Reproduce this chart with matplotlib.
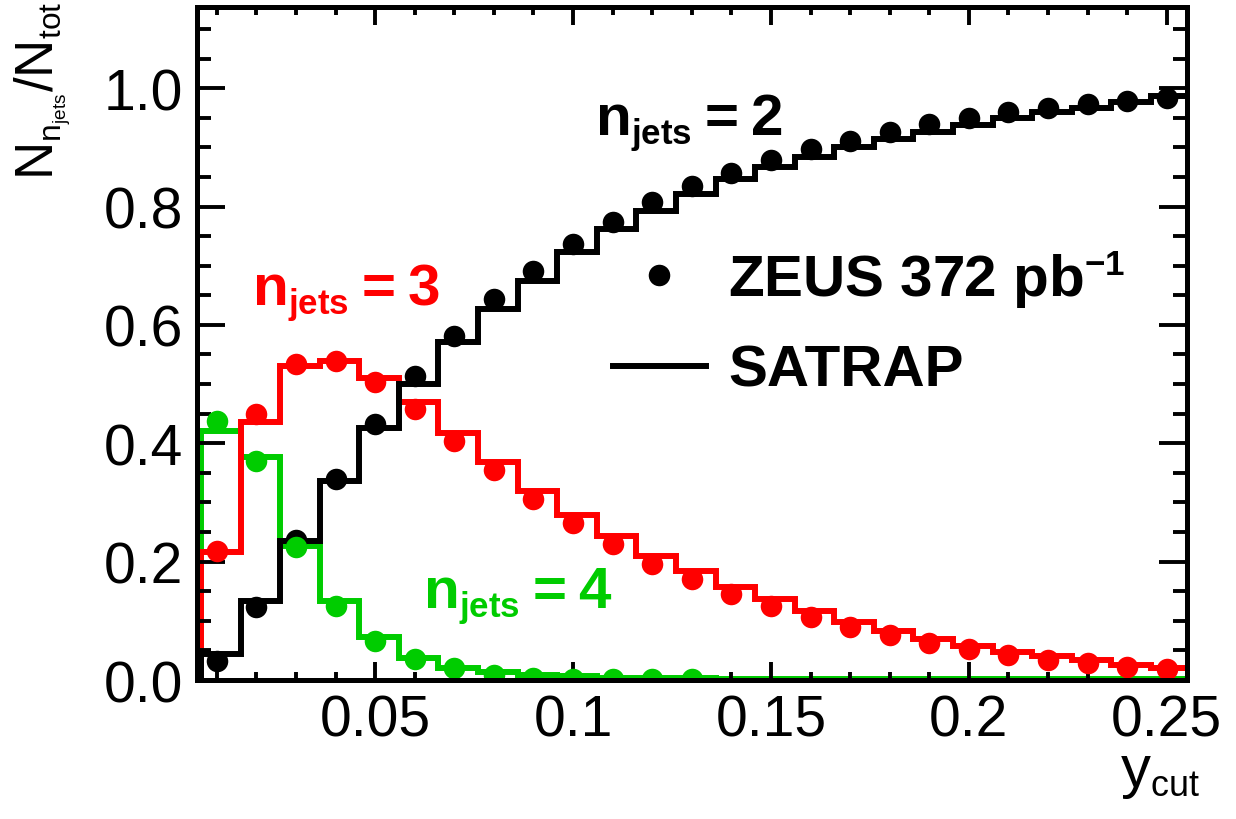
import numpy as np
import matplotlib
matplotlib.use('Agg')
import matplotlib.pyplot as plt
import matplotlib._mathtext as mathtext_impl
from matplotlib.ticker import MultipleLocator, FormatStrFormatter

plt.rcParams['font.family'] = ['Liberation Sans', 'DejaVu Sans']
plt.rcParams['mathtext.fontset'] = 'custom'
plt.rcParams['mathtext.rm'] = 'Liberation Sans'
plt.rcParams['mathtext.it'] = 'Liberation Sans'
plt.rcParams['mathtext.bf'] = 'Liberation Sans:bold'
# ROOT style sub/superscripts are smaller than the mathtext default
mathtext_impl.SHRINK_FACTOR = 0.6

# y_cut values of the data points
ycut = np.arange(1, 26) / 100

# ZEUS data (points)
zeus_2 = [0.032, 0.123, 0.237, 0.339, 0.432, 0.513, 0.581, 0.644, 0.691, 0.736,
          0.773, 0.807, 0.835, 0.856, 0.878, 0.897, 0.911, 0.926, 0.939, 0.949,
          0.959, 0.967, 0.973, 0.979, 0.984]
zeus_3 = [0.218, 0.449, 0.534, 0.539, 0.503, 0.458, 0.404, 0.354, 0.306, 0.266,
          0.230, 0.196, 0.171, 0.145, 0.125, 0.106, 0.090, 0.076, 0.062, 0.052,
          0.042, 0.034, 0.028, 0.022, 0.018]
zeus_4 = [0.438, 0.370, 0.224, 0.125, 0.066, 0.035, 0.020, 0.008, 0.004, 0.002,
          0.001, 0.001, 0.001]

# SATRAP prediction (histograms)
satrap_2 = [0.044, 0.134, 0.235, 0.337, 0.425, 0.500, 0.571, 0.627, 0.674, 0.723,
            0.762, 0.793, 0.821, 0.846, 0.866, 0.883, 0.900, 0.914, 0.926, 0.937,
            0.949, 0.959, 0.967, 0.976, 0.986]
satrap_3 = [0.216, 0.436, 0.531, 0.539, 0.511, 0.470, 0.418, 0.368, 0.320, 0.278,
            0.244, 0.210, 0.184, 0.157, 0.137, 0.117, 0.098, 0.083, 0.069, 0.057,
            0.048, 0.040, 0.033, 0.026, 0.020]
satrap_4 = [0.421, 0.376, 0.227, 0.134, 0.072, 0.038, 0.021, 0.013, 0.009, 0.006,
            0.004, 0.003, 0.003, 0.002, 0.002, 0.002, 0.002, 0.002, 0.002, 0.002,
            0.002, 0.002, 0.002, 0.002, 0.002]

# histogram bins are shifted a bit w.r.t. the points
edges = np.append(ycut - 0.004, ycut[-1] + 0.006)

red = '#ff0000'
green = '#00cc00'

fig = plt.figure(figsize=(12.36, 8.2), dpi=100)
ax = fig.add_axes([0.1594, 0.1695, 0.8009, 0.8207])

lw = 4.3
ms = 15.5
ax.stairs(satrap_4, edges, color=green, lw=lw, baseline=0)
ax.stairs(satrap_3, edges, color=red, lw=lw, baseline=0)
h_line = ax.stairs(satrap_2, edges, color='black', lw=lw, baseline=0)

h_pts = ax.plot(ycut, zeus_2, 'o', color='black', ms=ms, mew=0)[0]
ax.plot(ycut, zeus_3, 'o', color=red, ms=ms, mew=0)
ax.plot(ycut[:len(zeus_4)], zeus_4, 'o', color=green, ms=ms, mew=0)

ax.set_xlim(0.005, 0.2551)
ax.set_ylim(0, 1.137)

ax.xaxis.set_major_locator(MultipleLocator(0.05))
ax.xaxis.set_minor_locator(MultipleLocator(0.01))
ax.yaxis.set_major_locator(MultipleLocator(0.2))
ax.yaxis.set_minor_locator(MultipleLocator(0.05))
ax.xaxis.set_major_formatter(FormatStrFormatter('%g'))
ax.yaxis.set_major_formatter(FormatStrFormatter('%.1f'))

ax.tick_params(which='both', direction='in', top=True, right=True,
               width=2.8, labelsize=41)
ax.tick_params(axis='x', which='major', length=13, pad=10)
ax.tick_params(axis='x', which='minor', length=6)
ax.tick_params(axis='y', which='major', length=20, pad=10)
ax.tick_params(axis='y', which='minor', length=10)
for s in ax.spines.values():
    s.set_linewidth(3.6)

ax.set_xlabel(r'$\mathregular{y_{cut}}$', fontsize=43, ha='right', va='top')
ax.xaxis.set_label_coords(1.013, -0.097)
ax.set_ylabel(r'$\mathregular{N_{n_{jets}}/N_{tot}}$', fontsize=38, ha='right', va='top')
ax.yaxis.set_label_coords(-0.186, 1.01)

eq = '\u2009=\u2009'
ax.text(0.1055, 0.922, r'$\mathregular{n_{jets}}$' + eq + '2', color='black',
        fontsize=42, fontweight='bold', ha='left', va='baseline')
ax.text(0.0188, 0.635, r'$\mathregular{n_{jets}}$' + eq + '3', color=red,
        fontsize=42, fontweight='bold', ha='left', va='baseline')
ax.text(0.062, 0.123, r'$\mathregular{n_{jets}}$' + eq + '4', color=green,
        fontsize=42, fontweight='bold', ha='left', va='baseline')

ax.legend(handles=[h_pts, h_line],
          labels=[r'ZEUS 372 pb$\mathregular{^{-1}}$', 'SATRAP'],
          loc='upper left', bbox_to_anchor=(0.420, 0.642), frameon=False,
          borderpad=0, borderaxespad=0, handlelength=1.6, handletextpad=0.38,
          labelspacing=0.6, prop=dict(family='Liberation Sans', weight='bold', size=42))

fig.savefig('out.png', dpi=100)
